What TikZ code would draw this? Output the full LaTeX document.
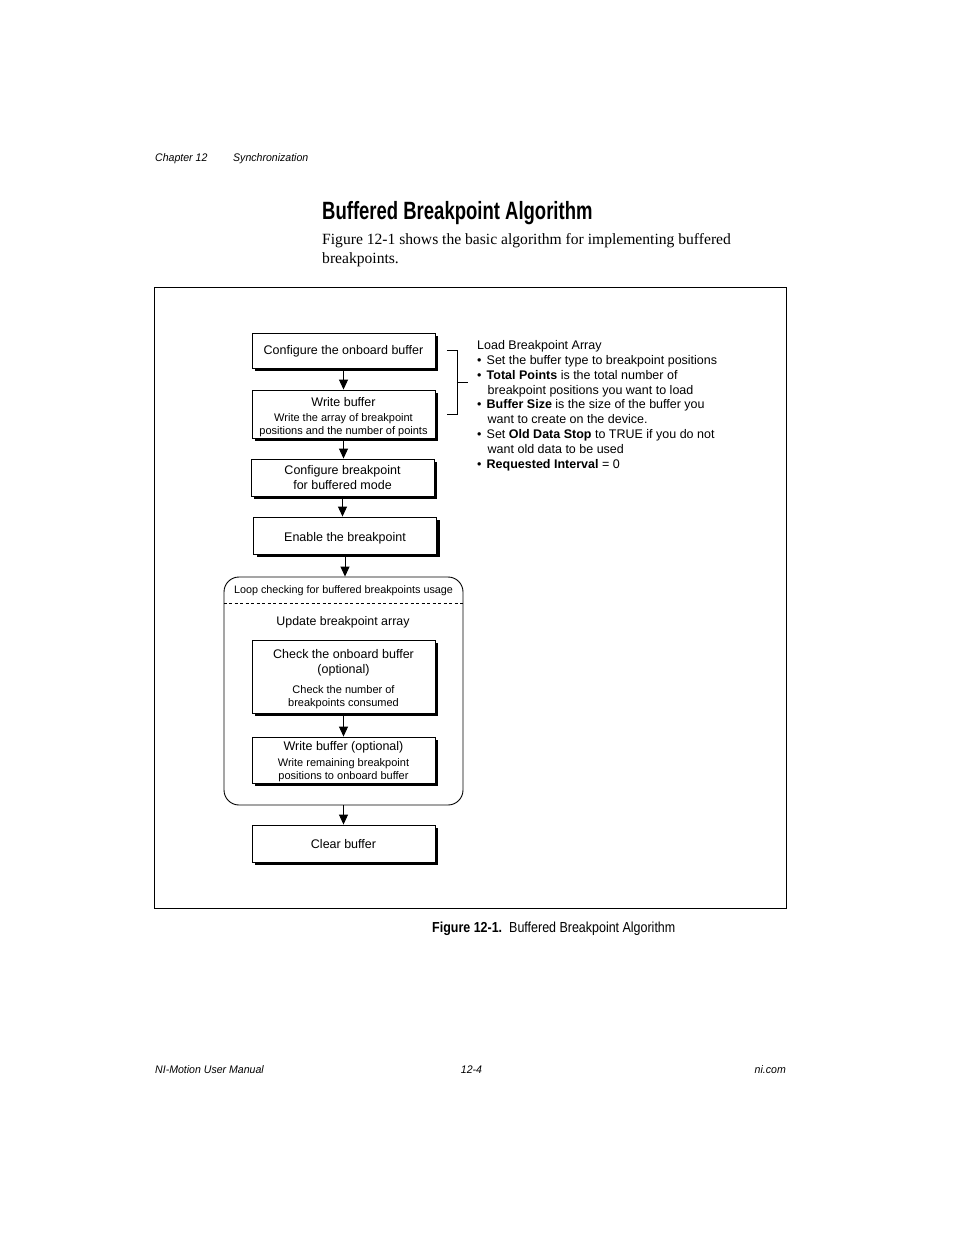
\documentclass[tikz,border=0pt]{standalone}
\usepackage{fontspec}
\setmainfont{Liberation Sans}
\newfontfamily\bodyfont{Liberation Serif}
\newfontfamily\titlefont[FakeStretch=0.74]{Liberation Sans}
\newfontfamily\capfont[FakeStretch=0.86]{Liberation Sans}
\newfontfamily\hdfont[FakeStretch=0.96]{Liberation Sans}
\usetikzlibrary{calc}
\usetikzlibrary{arrows.meta,shadows}

\newcommand{\bigtxt}{\fontsize{12.5}{15}\selectfont}
\newcommand{\smalltxt}{\fontsize{11}{13}\selectfont}
\newcommand{\looptxt}{\fontsize{10.8}{13}\selectfont}
\newcommand{\pt}{\makebox[9.5pt][l]{\textbullet}}
\newcommand{\ind}{\hspace*{10.5pt}}
\newcommand{\drop}[1]{\rule{0pt}{#1}}

\begin{document}
\begin{tikzpicture}[x=1pt,y=-1pt,
    box/.style={draw, line width=0.9pt, fill=white, align=center, inner sep=0pt,
      minimum width=183pt, font=\bigtxt,
      drop shadow={shadow xshift=3pt, shadow yshift=-3pt, fill=black, opacity=1}},
    flow/.style={line width=0.9pt, -{Triangle[width=9pt,length=10pt]}},
    hdtxt/.style={font=\hdfont\itshape\fontsize{11}{13}\selectfont, inner sep=0pt}]
    \useasboundingbox (0,0) rectangle (954,1235);

    % page header and title
    \node[hdtxt, anchor=base west] (chap) at (155,161) {Chapter 12};
    \node[hdtxt, anchor=base west] (sect) at (233,161) {Synchronization};
    \node[anchor=base west, inner sep=0pt, font=\titlefont\bfseries\fontsize{25}{30}\selectfont] (title) at (322,219) {Buffered Breakpoint Algorithm};
    \node[anchor=north west, inner sep=0pt, align=left, font=\bodyfont\fontsize{15.6}{19}\selectfont] (intro) at (322,233) {Figure 12-1 shows the basic algorithm for implementing buffered\\breakpoints.};

    % figure frame
    \draw[line width=0.9pt] (154,287) rectangle (786,908);

    % steps
    \node[box, minimum height=35pt] (cfgbuf) at (343.5,350.5) {\drop{11pt}Configure the onboard buffer};
    \node[box, minimum height=48pt] (wrbuf) at (343.5,414) {\drop{15pt}Write buffer\\\smalltxt Write the array of breakpoint\\[-2pt]\smalltxt positions and the number of points};
    \node[box, minimum height=37pt] (cfgbp) at (342.5,477.5) {Configure breakpoint\\for buffered mode};
    \node[box, minimum height=37pt] (enbp) at (345,535.5) {\drop{15pt}Enable the breakpoint};

    % loop
    \node[draw, line width=0.9pt, rounded corners=15pt, minimum width=239pt, minimum height=228pt] (loop) at (343.5,691) {};
    \draw[line width=0.8pt, dash pattern=on 3pt off 2.5pt] ([yshift=-27pt]loop.north west) -- ([yshift=-27pt]loop.north east);
    \node[font=\looptxt, inner sep=0pt] (looptitle) at (343.5,590.5) {Loop checking for buffered breakpoints usage};
    \node[font=\fontsize{12.4}{15}\selectfont, inner sep=0pt] (update) at (343,622) {Update breakpoint array};
    \node[box, minimum height=73pt] (chkbuf) at (343.5,676.5) {\drop{15pt}Check the onboard buffer\\(optional)\\[5pt]\smalltxt Check the number of\\[-2pt]\smalltxt breakpoints consumed};
    \node[box, minimum height=46pt] (wrbuf2) at (343.5,760) {\drop{13pt}Write buffer (optional)\\[1pt]\smalltxt Write remaining breakpoint\\[-2pt]\smalltxt positions to onboard buffer};

    \node[box, minimum height=37pt] (clrbuf) at (343.5,843.5) {\drop{11pt}Clear buffer};

    % arrows
    \draw[flow] (cfgbuf.south) -- (cfgbuf.south |- wrbuf.north);
    \draw[flow] (wrbuf.south) -- (wrbuf.south |- cfgbp.north);
    \draw[flow] (cfgbp.south) -- (cfgbp.south |- enbp.north);
    \draw[flow] (enbp.south) -- (enbp.south |- loop.north);
    \draw[flow] (chkbuf.south) -- (chkbuf.south |- wrbuf2.north);
    \draw[flow] (loop.south) -- (loop.south |- clrbuf.north);

    % load array notes
    \node[anchor=north west, inner sep=0pt, align=left, font=\fontsize{12.5}{14.8}\selectfont] (loadtxt) at (477,340.5) {Load Breakpoint Array\\
      \pt Set the buffer type to breakpoint positions\\
      \pt\textbf{Total Points} is the total number of\\
      \ind breakpoint positions you want to load\\
      \pt\textbf{Buffer Size} is the size of the buffer you\\
      \ind want to create on the device.\\
      \pt Set \textbf{Old Data Stop} to TRUE if you do not\\
      \ind want old data to be used\\
      \pt\textbf{Requested Interval} = 0};
    \draw[line width=0.8pt] ([xshift=11.5pt]cfgbuf.east) -- ([xshift=21.5pt]cfgbuf.east) -- ([xshift=21.5pt]wrbuf.east) -- ([xshift=11.5pt]wrbuf.east);
    \coordinate (brmid) at ($([xshift=21.5pt]cfgbuf.east)!0.5!([xshift=21.5pt]wrbuf.east)$);
    \draw[line width=0.8pt] (brmid) -- ++(11,0);

    % caption
    \node[anchor=base west, inner sep=0pt, font=\capfont\bfseries\fontsize{14.5}{17}\selectfont] (figno) at (432,932) {Figure 12-1.};
    \node[anchor=base west, inner sep=0pt, font=\capfont\fontsize{14.5}{17}\selectfont] (figcap) at (509,932) {Buffered Breakpoint Algorithm};

    % footer
    \node[hdtxt, anchor=base west] (manual) at (155,1073) {NI-Motion User Manual};
    \node[hdtxt, anchor=base] (pageno) at (471.5,1073) {12-4};
    \node[hdtxt, anchor=base east] (site) at (786,1073) {ni.com};
\end{tikzpicture}
\end{document}
